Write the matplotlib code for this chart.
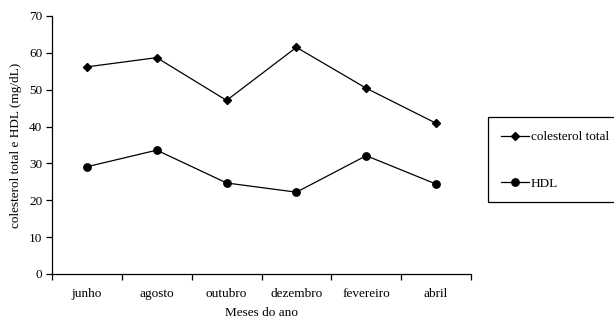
import numpy as np
import matplotlib
matplotlib.use("Agg")
import matplotlib.pyplot as plt
from matplotlib.patches import Rectangle

meses = ["junho", "agosto", "outubro", "dezembro", "fevereiro", "abril"]
colesterol_total = [56.2, 58.7, 47.1, 61.5, 50.4, 40.9]
hdl = [29.1, 33.6, 24.7, 22.2, 32.1, 24.4]

plt.rcParams['font.family'] = ['Liberation Serif', 'DejaVu Serif']
plt.rcParams['font.size'] = 9.5

fig = plt.figure(figsize=(6.14, 3.23), dpi=100)
ax = fig.add_axes([52/614, 1 - 274/323, (471 - 52)/614, (274 - 16)/323])

x = np.arange(len(meses))
ax.plot(x, colesterol_total, color='black', lw=0.9, marker='D', ms=4.3, label='colesterol total')
ax.plot(x, hdl, color='black', lw=0.9, marker='o', ms=5.3, label='HDL')

ax.set_xlim(-0.5, len(meses) - 0.5)
ax.set_ylim(0, 70)
ax.set_yticks(range(0, 71, 10))
ax.set_xticks(x)
ax.set_xticklabels(meses)
ax.set_xticks(np.arange(-0.5, len(meses), 1), minor=True)
ax.tick_params(axis='x', which='major', length=0, pad=10)
ax.tick_params(axis='x', which='minor', length=4, direction='out', width=0.9)
ax.tick_params(axis='y', length=4, direction='out', width=0.9, pad=3)
for s in ['top', 'right']:
    ax.spines[s].set_visible(False)
for s in ['left', 'bottom']:
    ax.spines[s].set_linewidth(0.9)

ax.set_xlabel('Meses do ano', labelpad=5)
ax.set_ylabel('colesterol total e HDL (mg/dL)', labelpad=5)

# caixa da legenda (cortada na borda direita como no original)
fig.patches.append(Rectangle((488/614, 1 - 202/323), 140/614, 85/323,
                             transform=fig.transFigure, fill=False,
                             edgecolor='black', lw=0.9))
fig.legend(loc='upper left', bbox_to_anchor=(501/614, 1 - 131/323),
           frameon=False, labelspacing=2.6, handlelength=2.1,
           handletextpad=0.15, borderpad=0, borderaxespad=0)

fig.savefig('out.png', dpi=100)
